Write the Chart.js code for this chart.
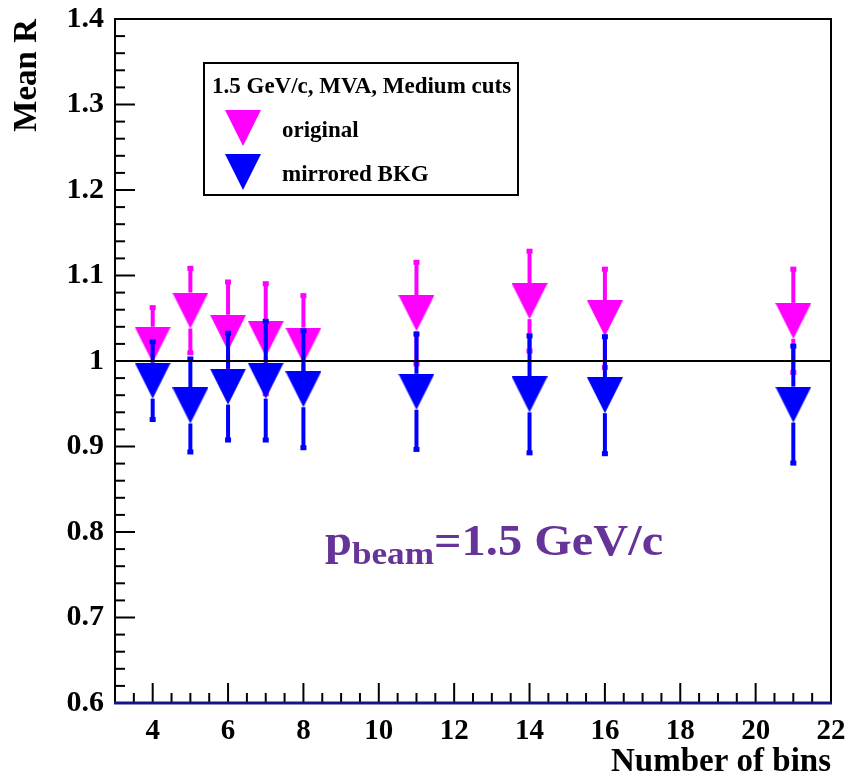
<!DOCTYPE html>
<html>
<head>
<meta charset="utf-8">
<title>Mean R vs number of bins</title>
<script src="https://cdn.jsdelivr.net/npm/chart.js@4.4.1/dist/chart.umd.min.js"></script>
<style>
  html, body { margin: 0; padding: 0; background: #ffffff; }
  canvas { display: block; }
</style>
</head>
<body>
<canvas id="ChartMeanR" width="848" height="776"></canvas>
<script>
// number of bins used in the fit
var nBins = [4, 5, 6, 7, 8, 11, 14, 16, 21];

// mean R, original sample
var originalR = [1.019, 1.059, 1.033, 1.026, 1.018, 1.056, 1.070, 1.050, 1.047];
var originalErr = [0.044, 0.050, 0.060, 0.065, 0.059, 0.060, 0.059, 0.058, 0.061];

// mean R, mirrored background
var mirroredR = [0.977, 0.948, 0.970, 0.977, 0.967, 0.964, 0.961, 0.960, 0.949];
var mirroredErr = [0.046, 0.055, 0.063, 0.070, 0.069, 0.068, 0.069, 0.069, 0.069];

var xTickValues = [4, 6, 8, 10, 12, 14, 16, 18, 20, 22];

var legendTitle = '1.5 GeV/c, MVA, Medium cuts';
var seriesNames = ['original', 'mirrored BKG'];

var SERIF = "'Liberation Serif', 'Times New Roman', serif";
var MAGENTA = '#ff00ff';
var BLUE = '#0000ff';

// downward triangle marker, same as the ROOT full triangle
function makeMarker(color, size) {
    var c = document.createElement('canvas');
    c.width = size;
    c.height = size;
    var g = c.getContext('2d');
    g.fillStyle = color;
    g.beginPath();
    g.moveTo(0, 0);
    g.lineTo(size, 0);
    g.lineTo(size / 2, size);
    g.closePath();
    g.fill();
    return c;
}

var markerOriginal = makeMarker(MAGENTA, 36);
var markerMirrored = makeMarker(BLUE, 36);

function toPoints(values) {
    var pts = [];
    for (var i = 0; i < nBins.length; i++) {
        pts.push({ x: nBins[i], y: values[i] });
    }
    return pts;
}

// no extra room for overhanging tick labels
function noPadding(axis) {
    axis.paddingTop = 0;
    axis.paddingBottom = 0;
    axis.paddingLeft = 0;
    axis.paddingRight = 0;
}

// frame and inward tick marks
var framePlugin = {
    id: 'frame',
    beforeDatasetsDraw: function (chart) {
        var ctx = chart.ctx;
        var a = chart.chartArea;
        var xs = chart.scales.x;
        var ys = chart.scales.y;
        var i, v, p, len;
        ctx.save();
        ctx.strokeStyle = '#000';
        ctx.lineWidth = 2;
        for (i = 1; i < 40; i++) {
            v = 0.6 + i * 0.02;
            p = ys.getPixelForValue(v);
            len = (i % 5 === 0) ? 20 : 10;
            ctx.beginPath();
            ctx.moveTo(a.left, p);
            ctx.lineTo(a.left + len, p);
            ctx.stroke();
        }
        for (i = 1; i < 38; i++) {
            v = 3 + i * 0.5;
            p = xs.getPixelForValue(v);
            len = (v % 2 === 0) ? 20 : 10;
            ctx.beginPath();
            ctx.moveTo(p, a.bottom);
            ctx.lineTo(p, a.bottom - len);
            ctx.stroke();
        }
        ctx.beginPath();
        ctx.moveTo(a.left, a.bottom);
        ctx.lineTo(a.left, a.top);
        ctx.lineTo(a.right, a.top);
        ctx.lineTo(a.right, a.bottom);
        ctx.stroke();
        ctx.strokeStyle = '#14148c';
        ctx.lineWidth = 3;
        ctx.beginPath();
        ctx.moveTo(a.left - 1, a.bottom);
        ctx.lineTo(a.right + 1, a.bottom);
        ctx.stroke();
        ctx.restore();
    },
    afterDatasetsDraw: function (chart) {
        // reference line at R = 1
        var ctx = chart.ctx;
        var a = chart.chartArea;
        var p = chart.scales.y.getPixelForValue(1);
        ctx.save();
        ctx.strokeStyle = '#000';
        ctx.lineWidth = 2;
        ctx.beginPath();
        ctx.moveTo(a.left, p);
        ctx.lineTo(a.right, p);
        ctx.stroke();
        ctx.restore();
    }
};

// vertical error bars, left open around the marker
var errorBarPlugin = {
    id: 'errorBars',
    afterDatasetDraw: function (chart, args) {
        var ds = chart.data.datasets[args.index];
        if (!ds.errors) return;
        var ctx = chart.ctx;
        var xs = chart.scales.x;
        var ys = chart.scales.y;
        var gap = 18;
        ctx.save();
        ctx.strokeStyle = ds.borderColor;
        ctx.fillStyle = ds.borderColor;
        ctx.lineWidth = 4;
        for (var i = 0; i < ds.data.length; i++) {
            var px = xs.getPixelForValue(ds.data[i].x);
            var pc = ys.getPixelForValue(ds.data[i].y);
            var hi = ys.getPixelForValue(ds.data[i].y + ds.errors[i]);
            var lo = ys.getPixelForValue(ds.data[i].y - ds.errors[i]);
            if (hi < pc - gap) {
                ctx.beginPath();
                ctx.moveTo(px, hi);
                ctx.lineTo(px, pc - gap);
                ctx.stroke();
                ctx.fillRect(px - 3, hi - 2, 6, 5);
            }
            if (lo > pc + gap) {
                ctx.beginPath();
                ctx.moveTo(px, pc + gap);
                ctx.lineTo(px, lo);
                ctx.stroke();
                ctx.fillRect(px - 3, lo - 3, 6, 5);
            }
        }
        ctx.restore();
    }
};

// legend box and beam momentum label
var labelsPlugin = {
    id: 'labels',
    afterDraw: function (chart) {
        var ctx = chart.ctx;
        ctx.save();
        ctx.fillStyle = '#fff';
        ctx.fillRect(204, 63, 314, 132);
        ctx.strokeStyle = '#000';
        ctx.lineWidth = 2;
        ctx.strokeRect(204, 63, 314, 132);

        ctx.fillStyle = '#000';
        ctx.textBaseline = 'middle';
        ctx.textAlign = 'left';
        ctx.font = 'bold 23px ' + SERIF;
        ctx.fillText(legendTitle, 212, 87);
        ctx.drawImage(markerOriginal, 243 - 18, 128 - 18);
        ctx.drawImage(markerMirrored, 243 - 18, 172 - 18);
        ctx.fillText(seriesNames[0], 282, 131);
        ctx.fillText(seriesNames[1], 282, 175);

        // p_beam=1.5 GeV/c, slightly widened
        ctx.fillStyle = '#663399';
        ctx.textBaseline = 'alphabetic';
        ctx.translate(325, 0);
        ctx.scale(1.1, 1);
        var x = 0;
        ctx.font = 'bold 44px ' + SERIF;
        ctx.fillText('p', x, 555);
        x += ctx.measureText('p').width;
        ctx.font = 'bold 32px ' + SERIF;
        ctx.fillText('beam', x, 564);
        x += ctx.measureText('beam').width;
        ctx.font = 'bold 44px ' + SERIF;
        ctx.fillText('=1.5 GeV/c', x, 555);
        ctx.restore();
    }
};

var ctx = document.getElementById('ChartMeanR').getContext('2d');
var chart = new Chart(ctx, {
    type: 'scatter',
    data: {
        datasets: [{
            label: seriesNames[0],
            data: toPoints(originalR),
            errors: originalErr,
            borderColor: MAGENTA,
            backgroundColor: MAGENTA,
            pointStyle: markerOriginal,
            order: 2
        }, {
            label: seriesNames[1],
            data: toPoints(mirroredR),
            errors: mirroredErr,
            borderColor: BLUE,
            backgroundColor: BLUE,
            pointStyle: markerMirrored,
            order: 1
        }]
    },
    options: {
        responsive: false,
        animation: false,
        devicePixelRatio: 1,
        layout: { padding: { top: 19, right: 17, left: 0, bottom: 0 } },
        plugins: {
            legend: { display: false },
            tooltip: { enabled: false }
        },
        scales: {
            x: {
                type: 'linear',
                min: 3,
                max: 22,
                grid: { display: false },
                border: { display: false },
                afterBuildTicks: function (axis) {
                    axis.ticks = xTickValues.map(function (v) { return { value: v }; });
                },
                afterFit: function (axis) {
                    axis.height = 73;
                    noPadding(axis);
                },
                ticks: {
                    color: '#000',
                    padding: 3,
                    maxRotation: 0,
                    autoSkip: false,
                    font: { family: SERIF, size: 29, weight: 'bold' }
                },
                title: {
                    display: true,
                    text: 'Number of bins',
                    align: 'end',
                    color: '#000',
                    padding: { top: 0, bottom: 0 },
                    font: { family: SERIF, size: 33, weight: 'bold', lineHeight: 0.85 }
                }
            },
            y: {
                type: 'linear',
                min: 0.6,
                max: 1.4,
                grid: { display: false },
                border: { display: false },
                afterFit: function (axis) {
                    axis.width = 115;
                    noPadding(axis);
                },
                ticks: {
                    stepSize: 0.1,
                    color: '#000',
                    padding: 3,
                    font: { family: SERIF, size: 30, weight: 'bold' },
                    callback: function (value) {
                        return String(Number(value.toFixed(1)));
                    }
                },
                title: {
                    display: true,
                    text: 'Mean R',
                    align: 'end',
                    color: '#000',
                    padding: { top: 11, bottom: 0 },
                    font: { family: SERIF, size: 33, weight: 'bold', lineHeight: 1 }
                }
            }
        }
    },
    plugins: [framePlugin, errorBarPlugin, labelsPlugin]
});
</script>
</body>
</html>
